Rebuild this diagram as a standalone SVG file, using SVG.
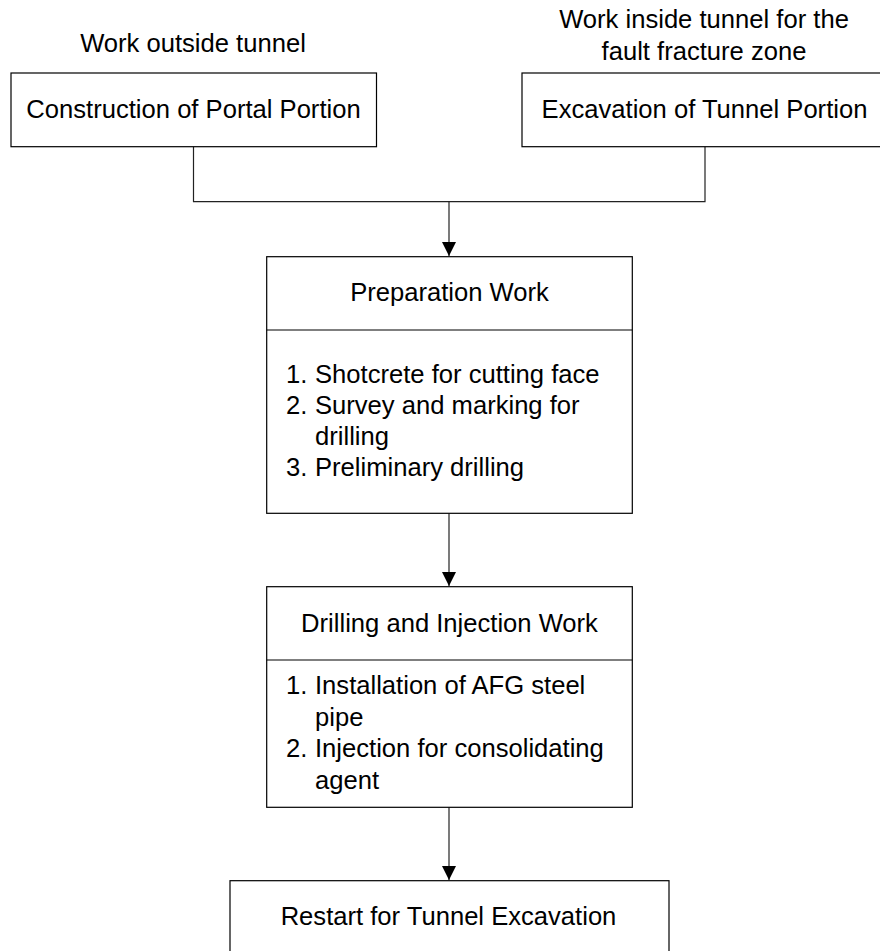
<svg xmlns="http://www.w3.org/2000/svg" width="880" height="951" viewBox="0 0 880 951">
<defs>
<marker id="arr" markerWidth="14" markerHeight="14" refX="14" refY="7" orient="auto" markerUnits="userSpaceOnUse" viewBox="0 0 14 14">
<path d="M0,0 L14,7 L0,14 Z" fill="#000"/>
</marker>
</defs>
<style>
text{font-family:"Liberation Sans",Arial,sans-serif;font-size:25.6px;fill:#000}
.box{fill:#fff;stroke:#000;stroke-width:1.2}
.c{text-anchor:middle}
.ln{fill:none;stroke:#222;stroke-width:1.2}
</style>
<rect width="880" height="951" fill="#fff"/>
<g id="label-outside"><text class="c" x="193" y="52">Work outside tunnel</text></g>
<g id="label-inside">
<text class="c" x="704" y="28">Work inside tunnel for the</text>
<text class="c" x="704" y="60">fault fracture zone</text>
</g>
<g id="connectors">
<polyline class="ln" points="193.5,146.7 193.5,201.7 705,201.7 705,146.7"/>
<line class="ln" x1="449" y1="201.7" x2="449" y2="256" marker-end="url(#arr)"/>
<line class="ln" x1="449" y1="513.3" x2="449" y2="586" marker-end="url(#arr)"/>
<line class="ln" x1="449" y1="807.3" x2="449" y2="880" marker-end="url(#arr)"/>
</g>
<g id="portal">
<rect class="box" x="11" y="73" width="365.5" height="73.7"/>
<text class="c" x="193.5" y="118">Construction of Portal Portion</text>
</g>
<g id="tunnel">
<rect class="box" x="522" y="73" width="365.5" height="73.7"/>
<text class="c" x="704.5" y="118">Excavation of Tunnel Portion</text>
</g>
<g id="prep">
<rect class="box" x="266.7" y="256.7" width="365.6" height="256.6"/>
<line class="box" x1="266.7" y1="330" x2="632.3" y2="330"/>
<text class="c" x="449.5" y="301">Preparation Work</text>
<text x="286" y="382.5">1.</text><text x="315" y="382.5">Shotcrete for cutting face</text>
<text x="286" y="413.5">2.</text><text x="315" y="413.5">Survey and marking for</text>
<text x="315" y="444.5">drilling</text>
<text x="286" y="476">3.</text><text x="315" y="476">Preliminary drilling</text>
</g>
<g id="drill">
<rect class="box" x="266.7" y="586.7" width="365.6" height="220.6"/>
<line class="box" x1="266.7" y1="660" x2="632.3" y2="660"/>
<text class="c" x="449.5" y="632">Drilling and Injection Work</text>
<text x="286" y="694">1.</text><text x="315" y="694">Installation of AFG steel</text>
<text x="315" y="725.5">pipe</text>
<text x="286" y="757">2.</text><text x="315" y="757">Injection for consolidating</text>
<text x="315" y="788.5">agent</text>
</g>
<g id="restart">
<rect class="box" x="230" y="880.7" width="439" height="80"/>
<text class="c" x="448.5" y="925">Restart for Tunnel Excavation</text>
</g>
</svg>
